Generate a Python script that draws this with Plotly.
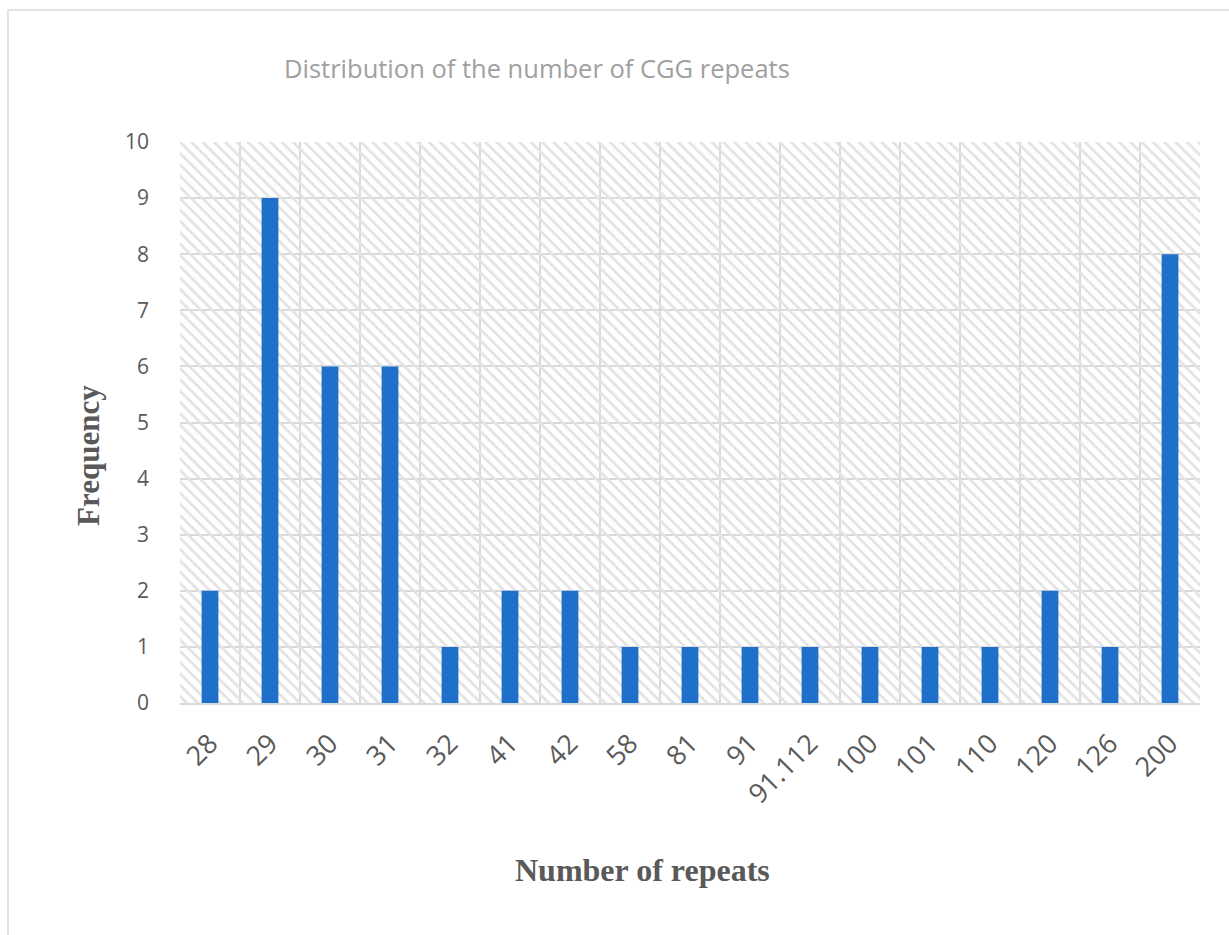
import plotly.graph_objects as go

categories = ["28", "29", "30", "31", "32", "41", "42", "58", "81", "91",
              "91.112", "100", "101", "110", "120", "126", "200"]
frequency = [2, 9, 6, 6, 1, 2, 2, 1, 1, 1, 1, 1, 1, 1, 2, 1, 8]
y_ticks = [0, 1, 2, 3, 4, 5, 6, 7, 8, 9, 10]

W, H = 1229, 935
L, R, T, B = 180, 29, 142, 232
pw, ph = W - L - R, H - T - B


def px(x):
    return (x - L) / pw


def py(y):
    return (H - y - B) / ph


fig = go.Figure()

# hatched background
fig.add_trace(go.Bar(
    x=categories, y=[10] * len(categories), width=1.0,
    marker=dict(color="#e3e3e3", line=dict(width=0),
                pattern=dict(shape="\\", fgcolor="#e3e3e3", bgcolor="rgba(255,255,255,0)",
                             size=8, solidity=0.35, fillmode="replace")),
    hoverinfo="skip", showlegend=False))

fig.add_trace(go.Bar(
    x=categories, y=frequency, width=0.28,
    marker=dict(color="#1f70c8", line=dict(width=0)),
    showlegend=False))

fig.update_layout(
    width=W, height=H,
    margin=dict(l=L, r=R, t=T, b=B),
    paper_bgcolor="white", plot_bgcolor="white",
    barmode="overlay",
    font=dict(family="Open Sans", color="#595959"),
    xaxis=dict(type="category", tickson="boundaries", showgrid=True,
               range=[-0.5, 16.5],
               gridcolor="#d9d9d9", gridwidth=1.8, tickangle=-45,
               tickfont=dict(size=27, color="#595959"), ticks="",
               showline=True, linecolor="#d9d9d9", linewidth=2,
               ticklabelstandoff=12),
    yaxis=dict(range=[0, 10], tickvals=y_ticks, showgrid=True,
               gridcolor="#d9d9d9", gridwidth=1.8, zeroline=False,
               tickfont=dict(size=21, color="#595959"), ticks="",
               ticklabelstandoff=30),
    annotations=[
        dict(text="Distribution of the number of CGG repeats", x=px(537), y=py(68),
             xref="paper", yref="paper", showarrow=False,
             font=dict(family="Open Sans", size=25.5, color="#a0a0a0"),
             xanchor="center", yanchor="middle"),
        dict(text="<b>Frequency</b>", x=px(88), y=py(456), textangle=-90,
             xref="paper", yref="paper",
             showarrow=False, font=dict(family="Liberation Serif", size=31, color="#595959"),
             xanchor="center", yanchor="middle"),
        dict(text="<b>Number of repeats</b>", x=px(642), y=py(870),
             xref="paper", yref="paper",
             showarrow=False, font=dict(family="Liberation Serif", size=32, color="#595959"),
             xanchor="center", yanchor="middle"),
    ],
    shapes=[dict(type="rect", xref="paper", yref="paper",
                 x0=px(8), x1=px(1240), y0=py(950), y1=py(10),
                 line=dict(color="#d9d9d9", width=1.5), layer="below")],
)

fig.write_html("out.html")
